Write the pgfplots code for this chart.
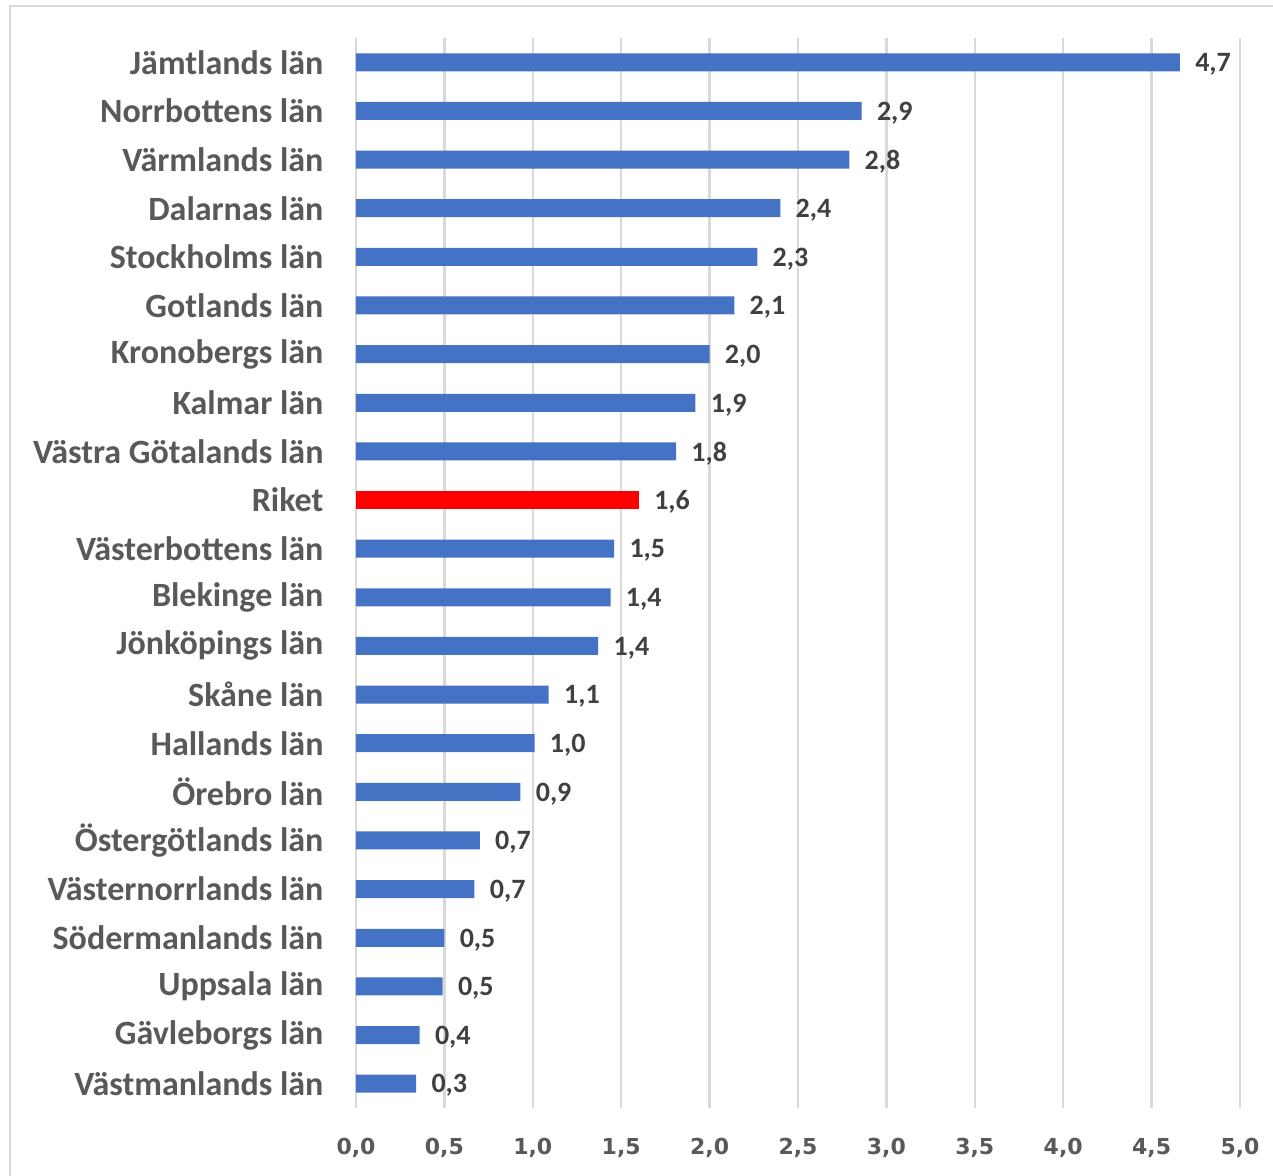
\documentclass[border=0pt]{standalone}
\usepackage{pgfplots}
\usepackage{fontspec}
\pgfplotsset{compat=1.18}
\setmainfont{Carlito}
\newfontfamily\tickfont{DejaVu Sans}
\definecolor{barblue}{HTML}{4472C4}
\definecolor{barred}{HTML}{FF0000}
\definecolor{gridgray}{HTML}{D9D9D9}
\definecolor{labelgray}{HTML}{595959}
\definecolor{valgray}{HTML}{404040}

\begin{document}
\begin{tikzpicture}
% picture frame, 1px = 0.5pt, axis origin at lower left of plot area
\useasboundingbox (-178pt,-34pt) rectangle (458.5pt,554pt);
\draw[gridgray, line width=1.2pt] (-173pt,-40pt) -- (-173pt,551pt) -- (470pt,551pt);
\begin{axis}[
    at={(0,0)}, anchor=south west,
    scale only axis,
    width=442pt,
    height=535pt,
    xmin=0, xmax=5,
    ymin=-0.5, ymax=21.5,
    xtick={0,0.5,...,5},
    ytick={0,...,21},
    yticklabels={Västmanlands län, Gävleborgs län, Uppsala län, Södermanlands län,
        Västernorrlands län, Östergötlands län, Örebro län, Hallands län, Skåne län,
        Jönköpings län, Blekinge län, Västerbottens län, Riket, Västra Götalands län,
        Kalmar län, Kronobergs län, Gotlands län, Stockholms län, Dalarnas län,
        Värmlands län, Norrbottens län, Jämtlands län},
    axis line style={draw=none},
    major tick style={draw=none},
    xmajorgrids=true,
    grid style={gridgray, line width=1.2pt},
    /pgf/number format/assume math mode=true,
    xticklabel={\pgfmathprintnumber[fixed,fixed zerofill,precision=1,use comma]{\tick}},
    xticklabel style={font=\tickfont\bfseries\fontsize{11}{13}\selectfont, text=labelgray, yshift=-11.5pt},
    yticklabel style={font=\bfseries\fontsize{17}{20}\selectfont, text=labelgray, anchor=east, xshift=-8.5pt},
    xbar, bar width=9pt, bar shift=0pt,
    point meta=x,
    nodes near coords={\pgfmathprintnumber[fixed,fixed zerofill,precision=1,use comma]{\pgfplotspointmeta}},
    every node near coord/.append style={font=\bfseries\fontsize{14}{16}\selectfont, text=valgray, anchor=west, inner sep=0pt, xshift=7.5pt, yshift=-1pt},
]
\addplot[fill=barblue, draw=none] coordinates {
    (0.34,0) (0.36,1) (0.49,2) (0.50,3) (0.67,4) (0.70,5) (0.93,6) (1.01,7)
    (1.09,8) (1.37,9) (1.44,10) (1.46,11)
    (1.81,13) (1.92,14) (2.00,15) (2.14,16) (2.27,17) (2.40,18) (2.79,19)
    (2.86,20) (4.66,21)
};
\addplot[fill=barred, draw=none] coordinates {
    (1.60,12)
};
\end{axis}
\end{tikzpicture}
\end{document}
